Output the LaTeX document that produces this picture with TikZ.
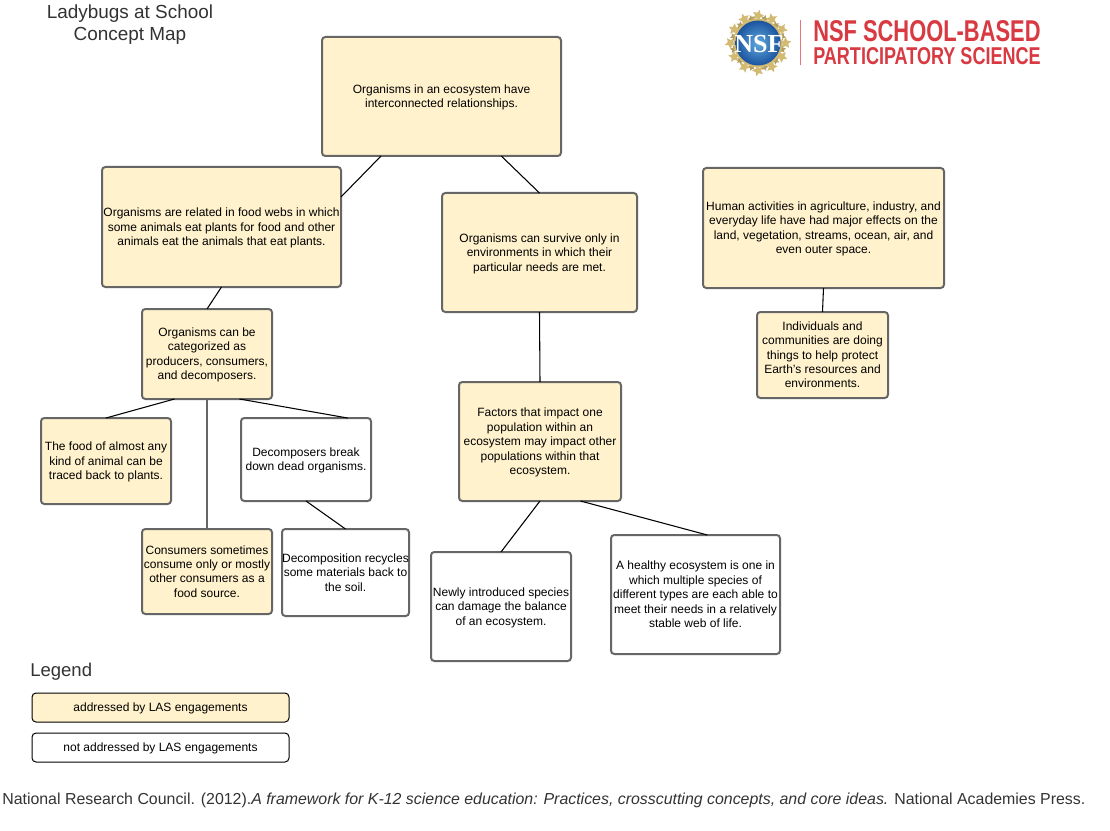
\documentclass[tikz,border=0pt]{standalone}
\usepackage{fontspec}
\setmainfont{Liberation Sans}
\newfontfamily\sealfont{Liberation Serif}
\usetikzlibrary{calc,shapes.geometric}
\definecolor{boxfill}{HTML}{FFF2CC}
\definecolor{boxline}{HTML}{666666}
\definecolor{nsfred}{HTML}{D93A42}
\definecolor{sealgold}{HTML}{D2BA72}
\definecolor{sealblue}{HTML}{1B539F}
\definecolor{sealsky}{HTML}{5FA9DD}
\definecolor{titlegrey}{HTML}{333333}
\tikzset{
  x=0.75pt,y=-0.75pt,
  concept/.style={draw=boxline,line width=1.5pt,rounded corners=2.5pt,inner sep=0pt,outer sep=0pt,align=center,font=\fontsize{9}{10.8}\selectfont,text=black},
  filledbox/.style={concept,fill=boxfill},
  plainbox/.style={concept,fill=white},
  legendfilled/.style={filledbox,draw=black,line width=0.75pt,rounded corners=3pt},
  legendplain/.style={plainbox,draw=black,line width=0.75pt,rounded corners=3pt},
  link/.style={draw=black,line width=0.8pt},
  spine/.style={draw=boxline,line width=1.2pt},
  heading/.style={font=\fontsize{14.2}{16.5}\selectfont,text=titlegrey,align=center,inner sep=0pt},
  legendhead/.style={heading,font=\fontsize{13.9}{16.5}\selectfont},
  cite/.style={font=\fontsize{11.93}{14.4}\selectfont,text=titlegrey,inner sep=0pt,anchor=west},
  brand/.style={text=nsfred,inner sep=0pt,anchor=west,font=\bfseries},
  sealtext/.style={text=white,inner sep=0pt,font=\sealfont\bfseries\fontsize{19.5}{19.5}\selectfont},
}
% name, x0, y0, x1, y1, style, text (pixel coordinates of the reference)
\newcommand{\cbox}[7]{%
  \node[#6,minimum width={(#4-#2)*0.75pt},minimum height={(#5-#3)*0.75pt}] (#1) at ({(#2+#4)/2},{(#3+#5)/2}) {\rule{0pt}{8.1pt}#7\rule[-1.9pt]{0pt}{1.9pt}};}
\begin{document}
\begin{tikzpicture}
\useasboundingbox[fill=white] (0,0) rectangle (1110,831);

\node[heading] (title) at (130,24.5) {Ladybugs at School\\Concept Map};

% seal
\foreach \a in {0,30,...,330}{
  \node[star,star points=5,star point ratio=2.1,fill=sealgold,inner sep=0pt,minimum size=9pt,rotate=\a] at ($(758,43)+(\a:27.5)$) {};
  \node[star,star points=5,star point ratio=2.1,fill=sealgold!85!black,inner sep=0pt,minimum size=6pt,rotate=\a] at ($(758,43)+(\a+15:25)$) {};
}
\fill[sealgold] (758,43) circle (24.5);
\shade[inner color=sealsky,outer color=sealblue] (758,43) circle (22.5);
\node[sealtext] (seal) at (759,44) {NSF};
\draw[nsfred!70,line width=0.75pt] (800,20) -- (800,65);
\node[brand] (brand1) at (813,31.5) {\resizebox{170.5pt}{15.75pt}{NSF SCHOOL-BASED}};
\node[brand] (brand2) at (813,56.5) {\resizebox{170.5pt}{12.75pt}{PARTICIPATORY SCIENCE}};

% concept boxes
\cbox{root}{322}{37}{561}{156}{filledbox}{Organisms in an ecosystem have\\interconnected relationships.}
\cbox{foodweb}{102}{167}{341}{287}{filledbox}{Organisms are related in food webs in which\\some animals eat plants for food and other\\animals eat the animals that eat plants.}
\cbox{survive}{442}{193}{637}{312}{filledbox}{Organisms can survive only in\\environments in which their\\particular needs are met.}
\cbox{human}{703}{168}{944}{288}{filledbox}{Human activities in agriculture, industry, and\\everyday life have had major effects on the\\land, vegetation, streams, ocean, air, and\\even outer space.}
\cbox{categ}{142}{309}{272}{399}{filledbox}{Organisms can be\\categorized as\\producers, consumers,\\and decomposers.}
\cbox{factors}{459}{382}{621}{501}{filledbox}{Factors that impact one\\population within an\\ecosystem may impact other\\populations within that\\ecosystem.}
\cbox{people}{757}{312}{888}{398}{filledbox}{Individuals and\\communities are doing\\things to help protect\\Earth’s resources and\\environments.}
\cbox{foodback}{41}{418}{171}{504}{filledbox}{The food of almost any\\kind of animal can be\\traced back to plants.}
\cbox{decomp}{241}{418}{371}{501}{plainbox}{Decomposers break\\down dead organisms.}
\cbox{consumers}{142}{529}{272}{614}{filledbox}{Consumers sometimes\\consume only or mostly\\other consumers as a\\food source.}
\cbox{recycle}{282}{529}{409}{616}{plainbox}{Decomposition recycles\\some materials back to\\the soil.}
\cbox{newly}{431}{552}{571}{661}{plainbox}{Newly introduced species\\can damage the balance\\of an ecosystem.}
\cbox{healthy}{611}{535}{780}{654}{plainbox}{A healthy ecosystem is one in\\which multiple species of\\different types are each able to\\meet their needs in a relatively\\stable web of life.}

% connectors
\path[link] ($(root.south west)!0.247!(root.south east)$) -- ($(foodweb.north east)!0.25!(foodweb.south east)$);
\path[link] ($(root.south west)!0.75!(root.south east)$) -- ($(survive.north west)!0.5!(survive.north east)$);
\path[link] ($(foodweb.south west)!0.5!(foodweb.south east)$) -- ($(categ.north west)!0.5!(categ.north east)$);
\path[link] ($(survive.south west)!0.5!(survive.south east)$) -- ($(factors.north west)!0.5!(factors.north east)$);
\path[link] ($(human.south west)!0.5!(human.south east)$) -- ($(people.north west)!0.5!(people.north east)$);
\path[link] ($(categ.south west)!0.25!(categ.south east)$) -- ($(foodback.north west)!0.5!(foodback.north east)$);
\path[spine] (categ.south) -- (consumers.north);
\path[link] ($(categ.south west)!0.75!(categ.south east)$) -- ($(decomp.north west)!0.82!(decomp.north east)$);
\path[link] (decomp.south) -- ($(recycle.north west)!0.5!(recycle.north east)$);
\path[link] ($(factors.south west)!0.5!(factors.south east)$) -- ($(newly.north west)!0.5!(newly.north east)$);
\path[link] ($(factors.south west)!0.75!(factors.south east)$) -- ($(healthy.north west)!0.57!(healthy.north east)$);

% legend
\node[legendhead,anchor=west] (legend) at (30,672) {Legend};
\cbox{legendA}{32}{693}{289}{722}{legendfilled}{addressed by LAS engagements}
\cbox{legendB}{32}{733}{289}{762}{legendplain}{not addressed by LAS engagements}

\node[cite] (citation) at (2,800) {National Research Council. (2012).\textit{A framework for K-12 science education: Practices, crosscutting concepts, and core ideas.} National Academies Press.};
\end{tikzpicture}
\end{document}
